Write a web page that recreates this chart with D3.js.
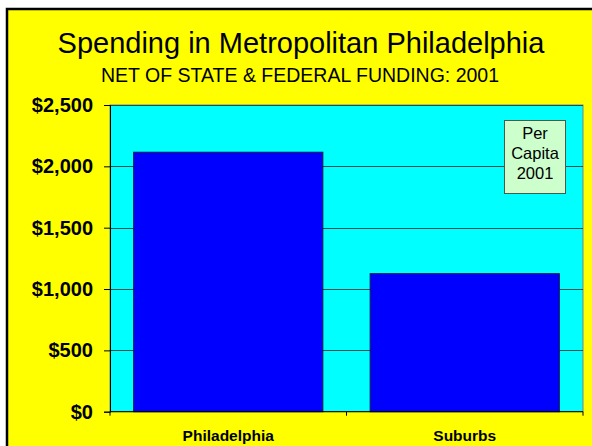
<!DOCTYPE html>
<html><head><meta charset="utf-8">
<script src="https://cdn.jsdelivr.net/npm/d3@7"></script>
<style>html,body{margin:0;padding:0;background:#fff;}svg{display:block;font-family:Arial,"Liberation Sans",sans-serif;}</style>
</head><body>
<script>
const categories = ["Philadelphia", "Suburbs"];
const values = [2115, 1125];
const yTicks = [0, 500, 1000, 1500, 2000, 2500];
const titleText = "Spending in Metropolitan Philadelphia";
const subtitleText = "NET OF STATE & FEDERAL FUNDING: 2001";
const legendLines = ["Per", "Capita", "2001"];

const W = 592, H = 446;
const svg = d3.select("body").append("svg").attr("width", W).attr("height", H);

// outer yellow panel with border
svg.append("rect").attr("x", 7).attr("y", 9).attr("width", W + 20).attr("height", H + 20)
  .attr("fill", "#ffff00").attr("stroke", "#000").attr("stroke-width", 2.5);

const m = {left: 110, top: 105, right: 583, bottom: 411.7};
const x = d3.scaleBand().domain(categories).range([m.left, m.right]).paddingInner(0.2).paddingOuter(0.1);
const y = d3.scaleLinear().domain([0, 2500]).range([m.bottom, m.top]);

// plot area
svg.append("rect").attr("x", m.left).attr("y", m.top).attr("width", m.right - m.left).attr("height", m.bottom - m.top)
  .attr("fill", "#00ffff").attr("stroke", "#6a8a8a").attr("stroke-width", 1);

// gridlines
svg.append("g").selectAll("line").data(yTicks.filter(d => d > 0)).join("line")
  .attr("x1", m.left).attr("x2", m.right)
  .attr("y1", d => Math.round(y(d)) + 0.5).attr("y2", d => Math.round(y(d)) + 0.5)
  .attr("stroke", "#1f4f4f").attr("stroke-width", 1);

// bars
svg.append("g").selectAll("rect").data(categories).join("rect")
  .attr("x", d => x(d)).attr("width", x.bandwidth())
  .attr("y", (d, i) => y(values[i])).attr("height", (d, i) => m.bottom - y(values[i]))
  .attr("fill", "#0000ff").attr("stroke", "#0a1a40").attr("stroke-width", 1);

// y axis
const yAxis = d3.axisLeft(y).tickValues(yTicks).tickSize(6).tickPadding(11)
  .tickFormat(d => "$" + d3.format(",")(d));
const gy = svg.append("g").attr("transform", `translate(${m.left},0)`).call(yAxis);
gy.select(".domain").attr("stroke", "#000");
gy.selectAll(".tick line").attr("stroke", "#000");
gy.selectAll(".tick text").attr("font-size", 20).attr("font-weight", "bold").attr("fill", "#000")
  .attr("font-family", "Arial, 'Liberation Sans', sans-serif");

// x axis
const xAxis = d3.axisBottom(x).tickSize(0).tickPadding(0).tickFormat(d => d);
const gx = svg.append("g").attr("transform", `translate(0,${m.bottom})`).call(xAxis);
gx.select(".domain").remove();
gx.selectAll(".tick text").attr("font-size", 15.5).attr("font-weight", "bold").attr("fill", "#000")
  .attr("font-family", "Arial, 'Liberation Sans', sans-serif").attr("dy", null).attr("y", 29.5);
svg.append("line").attr("x1", m.left).attr("x2", m.right).attr("y1", m.bottom).attr("y2", m.bottom)
  .attr("stroke", "#000").attr("stroke-width", 1);
const bounds = [m.left, ...categories.map(c => x(c) + x.bandwidth() + x.step() * x.paddingInner() / 2)];
svg.append("g").selectAll("line").data(bounds).join("line")
  .attr("x1", d => d).attr("x2", d => d).attr("y1", m.bottom).attr("y2", m.bottom + 4)
  .attr("stroke", "#000");

// titles
svg.append("text").attr("x", 301).attr("y", 53).attr("text-anchor", "middle")
  .attr("font-size", 29).attr("fill", "#000").text(titleText);
svg.append("text").attr("x", 300).attr("y", 81.5).attr("text-anchor", "middle")
  .attr("font-size", 19.5).attr("fill", "#000").text(subtitleText);

// legend box
const lg = svg.append("g");
lg.append("rect").attr("x", 504.5).attr("y", 120.5).attr("width", 61).attr("height", 73)
  .attr("fill", "#ccffcc").attr("stroke", "#4a5a4a").attr("stroke-width", 1);
lg.selectAll("text").data(legendLines).join("text")
  .attr("x", 535).attr("y", (d, i) => 138.5 + i * 20).attr("text-anchor", "middle")
  .attr("font-size", 16.5).attr("fill", "#000").text(d => d);
</script>
</body></html>
